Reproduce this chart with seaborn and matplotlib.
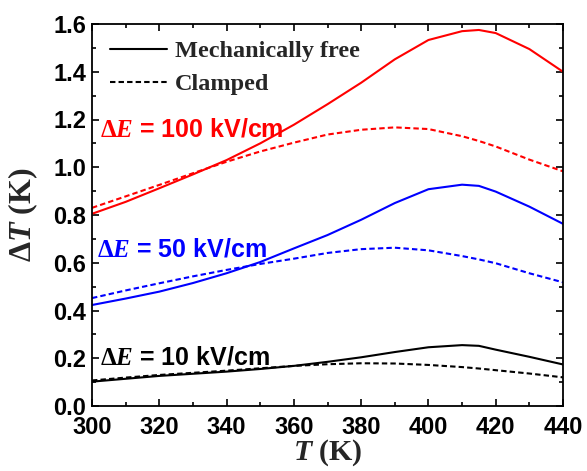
import numpy as np
import pandas as pd
import matplotlib
matplotlib.use("Agg")
import matplotlib.pyplot as plt
from matplotlib.lines import Line2D
from matplotlib.ticker import MultipleLocator
import seaborn as sns

# ---- data ----
T = [300, 310, 320, 330, 340, 350, 360, 370, 380, 390, 400, 410, 415, 420, 430, 440]

free_100 = [0.805, 0.855, 0.912, 0.970, 1.030, 1.100, 1.178, 1.264, 1.354, 1.452, 1.533, 1.570, 1.575, 1.562, 1.495, 1.400]
clamp_100 = [0.830, 0.878, 0.926, 0.975, 1.023, 1.066, 1.103, 1.137, 1.157, 1.167, 1.160, 1.130, 1.110, 1.087, 1.032, 0.983]

free_50 = [0.423, 0.450, 0.479, 0.515, 0.556, 0.603, 0.660, 0.716, 0.780, 0.850, 0.908, 0.927, 0.922, 0.898, 0.835, 0.763]
clamp_50 = [0.452, 0.484, 0.514, 0.543, 0.570, 0.595, 0.617, 0.641, 0.657, 0.663, 0.652, 0.628, 0.614, 0.598, 0.556, 0.518]

free_10 = [0.102, 0.114, 0.126, 0.135, 0.144, 0.155, 0.168, 0.185, 0.204, 0.226, 0.246, 0.255, 0.252, 0.236, 0.206, 0.174]
clamp_10 = [0.107, 0.119, 0.130, 0.139, 0.148, 0.158, 0.168, 0.175, 0.179, 0.178, 0.172, 0.163, 0.157, 0.150, 0.136, 0.120]

series_colors = ["#ff0000", "#0000ff", "#000000"]
labels_text = ["100 kV/cm", "50 kV/cm", "10 kV/cm"]
label_pos = [(302.4, 1.127), (301.4, 0.626), (302.4, 0.172)]

legend_labels = ["Mechanically free", "Clamped"]
xticks = [300, 320, 340, 360, 380, 400, 420, 440]
yticks = [0.0, 0.2, 0.4, 0.6, 0.8, 1.0, 1.2, 1.4, 1.6]

# ---- style ----
sns.set_style("ticks")
plt.rcParams["font.family"] = ["Liberation Sans", "DejaVu Sans"]
plt.rcParams["font.weight"] = "bold"
plt.rcParams["mathtext.fontset"] = "custom"
plt.rcParams["mathtext.rm"] = "Liberation Serif:bold"
plt.rcParams["mathtext.it"] = "Liberation Serif:italic:bold"
plt.rcParams["mathtext.bf"] = "Liberation Serif:bold"

fig = plt.figure(figsize=(5.87, 4.71), dpi=100)
ax = fig.add_axes([92 / 587, 1 - 406 / 471, (563 - 92) / 587, (406 - 24) / 471])

dash = (0, (2.6, 1.5))
pairs = [(free_100, clamp_100), (free_50, clamp_50), (free_10, clamp_10)]
for (fr, cl), col in zip(pairs, series_colors):
    sns.lineplot(x=T, y=fr, color=col, linewidth=1.5, ax=ax)
    sns.lineplot(x=T, y=cl, color=col, linewidth=1.5, linestyle=dash, ax=ax)

for (x, y), txt, col in zip(label_pos, labels_text, series_colors):
    ax.text(x, y, r"$\Delta\mathit{E}$ = " + txt, color=col, fontsize=18,
            fontweight="bold", family=["Liberation Sans"], ha="left", va="baseline")

ax.set_xlim(300, 440)
ax.set_ylim(0.0, 1.6)
ax.set_xticks(xticks)
ax.set_yticks(yticks)
ax.set_xticklabels([str(v) for v in xticks])
ax.set_yticklabels([f"{v:.1f}" for v in yticks])
ax.xaxis.set_minor_locator(MultipleLocator(10))
ax.yaxis.set_minor_locator(MultipleLocator(0.1))
ax.tick_params(which="both", direction="in", top=True, right=True, width=1.2, colors="black")
ax.tick_params(which="major", length=5, labelsize=17)
ax.tick_params(axis="x", which="major", pad=7)
ax.tick_params(axis="y", which="major", pad=4)
ax.tick_params(which="minor", length=3)
for lab in ax.get_xticklabels() + ax.get_yticklabels():
    lab.set_fontweight("bold")
for sp in ax.spines.values():
    sp.set_linewidth(1.3)
    sp.set_color("black")

ax.set_xlabel(r"$\mathit{T}$ (K)", fontsize=21.5, family=["Liberation Serif"], fontweight="bold")
ax.set_ylabel(r"$\Delta\mathit{T}$ (K)", fontsize=23, family=["Liberation Serif"], fontweight="bold")
ax.xaxis.set_label_coords(0.5, -0.082)
ax.yaxis.set_label_coords(-0.11, 0.5)

handles = [Line2D([], [], color="black", linewidth=1.5),
           Line2D([], [], color="black", linewidth=1.5, linestyle=dash)]
leg = ax.legend(handles, legend_labels, loc="upper left", frameon=False,
                bbox_to_anchor=(0.0, 1.005),
                prop={"family": "Liberation Serif", "weight": "bold", "size": 17.5},
                handlelength=2.35, handletextpad=0.33, labelspacing=0.45,
                borderaxespad=0.35)

fig.savefig("out.png", dpi=100)
